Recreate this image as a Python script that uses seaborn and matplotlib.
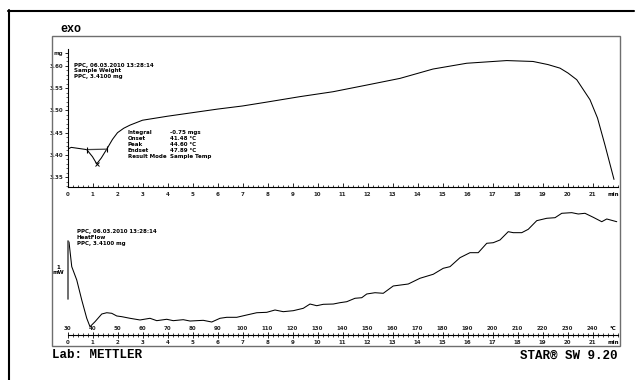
import matplotlib
matplotlib.use("Agg")
import matplotlib.pyplot as plt
from matplotlib.lines import Line2D
from matplotlib.patches import Rectangle
from matplotlib.ticker import MultipleLocator, FixedLocator, FixedFormatter
import seaborn as sns

# ---- TGA: sample weight (mg) against time (min) ----
tga_time = [0.00, 0.15, 0.40, 0.77, 1.00, 1.17, 1.35, 1.57, 1.80, 2.00, 2.25,
            2.50, 3.00, 4.00, 5.00, 6.00, 7.00, 8.00, 9.30, 10.62, 11.97,
            13.30, 14.62, 15.97, 17.30, 17.57, 18.62, 19.22, 19.70, 20.02,
            20.37, 20.90, 21.20, 21.50, 21.86]
tga_weight = [3.413, 3.417, 3.415, 3.412, 3.396, 3.380, 3.393, 3.413, 3.435,
              3.450, 3.460, 3.467, 3.478, 3.487, 3.495, 3.503, 3.510, 3.519,
              3.531, 3.542, 3.557, 3.572, 3.593, 3.606, 3.611, 3.612, 3.610,
              3.603, 3.595, 3.584, 3.569, 3.524, 3.483, 3.422, 3.345]

# ---- DSC: heat flow (mW, relative) against time (min) ----
dsc_time = [0.00, 0.06, 0.17, 0.37, 0.57, 0.77, 0.90, 1.10, 1.37, 1.57, 1.77,
            1.97, 2.17, 2.50, 2.90, 3.30, 3.57, 3.97, 4.23, 4.63, 4.90, 5.43,
            5.77, 6.10, 6.37, 6.77, 7.17, 7.57, 7.97, 8.30, 8.63, 9.03, 9.43,
            9.70, 9.97, 10.23, 10.63, 10.90, 11.17, 11.50, 11.77, 11.97, 12.30,
            12.63, 13.03, 13.63, 14.10, 14.63, 15.03, 15.30, 15.70, 16.10,
            16.43, 16.77, 17.03, 17.30, 17.63, 17.83, 18.17, 18.43, 18.77,
            19.17, 19.50, 19.77, 20.17, 20.43, 20.70, 21.03, 21.37, 21.57,
            21.97]
dsc_heatflow = [1.621, 1.603, 1.178, 0.948, 0.603, 0.288, 0.143, 0.229, 0.362,
                0.384, 0.374, 0.328, 0.316, 0.288, 0.259, 0.288, 0.247, 0.271,
                0.247, 0.264, 0.241, 0.253, 0.224, 0.288, 0.305, 0.305, 0.345,
                0.384, 0.391, 0.431, 0.402, 0.419, 0.460, 0.534, 0.505, 0.529,
                0.534, 0.557, 0.574, 0.633, 0.643, 0.707, 0.729, 0.719, 0.845,
                0.879, 0.978, 1.047, 1.150, 1.178, 1.333, 1.419, 1.419, 1.581,
                1.591, 1.638, 1.781, 1.764, 1.764, 1.822, 1.971, 2.012, 2.022,
                2.098, 2.109, 2.086, 2.098, 2.029, 1.953, 2.000, 1.953]

minute_ticks = list(range(0, 22))
temp_ticks = list(range(30, 250, 10))
weight_ticks = [3.35, 3.40, 3.45, 3.50, 3.55, 3.60]
unit_tick = 3.629

# evaluation of the weight step
step_time = [0.77, 1.57]
step_weight = [3.412, 3.413]
peak_time, peak_weight = 1.17, 3.380
eval_names = ["Integral", "Onset", "Peak", "Endset", "Result Mode"]
eval_values = ["-0.75 mgs", "41.48 \u00b0C", "44.60 \u00b0C", "47.89 \u00b0C",
               "Sample Temp"]

header_tga = ["PPC, 06.03.2010 13:28:14", "Sample Weight", "PPC, 3.4100 mg"]
header_dsc = ["PPC, 06.03.2010 13:28:14", "HeatFlow", "PPC, 3.4100 mg"]

sns.set_style("white")
plt.rcParams["font.family"] = ["DejaVu Sans"]

W, H = 635, 380
fig = plt.figure(figsize=(W / 100, H / 100), dpi=100)
fig.patch.set_facecolor("white")


def fx(px):
    return px / W


def fy(py):
    return 1 - py / H


small = dict(fontsize=4, fontweight="bold", color="black")
mono = dict(family=["Liberation Mono", "DejaVu Sans Mono"], fontweight="bold",
            color="black")

# outer sheet frame
fig.add_artist(Line2D([fx(8), fx(634)], [fy(10.5), fy(10.5)], color="black", lw=1.5))
fig.add_artist(Line2D([fx(8.5), fx(8.5)], [fy(10), fy(381)], color="black", lw=1.5))
# plot frame
fig.add_artist(Rectangle((fx(52), fy(346)), fx(620) - fx(52), fy(36) - fy(346),
                         fill=False, edgecolor="#6e6e6e", lw=1.0))

x_left, x_right = 67.5, 617.5
ax_t = fig.add_axes([fx(x_left), fy(187), fx(x_right) - fx(x_left), fy(49) - fy(187)])
ax_d = fig.add_axes([fx(x_left), fy(335), fx(x_right) - fx(x_left), fy(205) - fy(335)])
for ax in (ax_t, ax_d):
    ax.patch.set_alpha(0)
    ax.set_xlim(0, 22)
    ax.set_xlabel("")
    ax.set_ylabel("")

# ---- upper panel: weight ----
sns.lineplot(x=tga_time, y=tga_weight, ax=ax_t, color="black", lw=0.75,
             estimator=None, sort=False)
ax_t.plot(step_time, step_weight, color="#444444", lw=0.9)
ax_t.plot(step_time, step_weight, ls="none", marker="|", ms=5, mew=0.8, color="black")
ax_t.plot([peak_time], [peak_weight], ls="none", marker="x", ms=2.5, mew=0.7, color="black")
ax_t.set_ylim(3.328, 3.638)
for s in ("top", "right"):
    ax_t.spines[s].set_visible(False)
for s in ("left", "bottom"):
    ax_t.spines[s].set_color("black")
    ax_t.spines[s].set_linewidth(0.8)
ax_t.xaxis.set_major_locator(FixedLocator(minute_ticks))
ax_t.xaxis.set_major_formatter(FixedFormatter([str(m) for m in minute_ticks]))
ax_t.xaxis.set_minor_locator(MultipleLocator(0.2))
ax_t.yaxis.set_major_locator(FixedLocator(weight_ticks + [unit_tick]))
ax_t.yaxis.set_major_formatter(FixedFormatter([f"{w:.2f}" for w in weight_ticks] + ["mg"]))
ax_t.yaxis.set_minor_locator(MultipleLocator(0.01))
ax_t.tick_params(axis="x", which="major", direction="in", length=3, width=0.7, pad=3.6,
                 labelsize=4, bottom=True)
ax_t.tick_params(axis="x", which="minor", direction="in", length=1.8, width=0.6, bottom=True)
ax_t.tick_params(axis="y", which="major", direction="out", length=2, width=0.7, pad=0.8,
                 labelsize=4, left=True)
ax_t.tick_params(axis="y", which="minor", direction="out", length=1.2, width=0.5, left=True)
for lab in ax_t.get_xticklabels() + ax_t.get_yticklabels():
    lab.set_fontweight("bold")
ax_t.annotate("min", xy=(21.82, 0), xycoords=("data", "axes fraction"),
              xytext=(0, -8), textcoords="offset pixels", ha="center", va="center", **small)

for i, line in enumerate(header_tga):
    fig.text(fx(74), fy(65 + 5.6 * i), line, ha="left", va="center", **small)
for i, (n, v) in enumerate(zip(eval_names, eval_values)):
    fig.text(fx(128), fy(132.7 + 6 * i), n, ha="left", va="center", **small)
    fig.text(fx(170), fy(132.7 + 6 * i), v, ha="left", va="center", **small)

# ---- lower panel: heat flow ----
sns.lineplot(x=dsc_time, y=dsc_heatflow, ax=ax_d, color="black", lw=0.75,
             estimator=None, sort=False)
ax_d.set_ylim(0, 2.241)
for s in ("top", "right", "left"):
    ax_d.spines[s].set_visible(False)
ax_d.spines["bottom"].set_color("black")
ax_d.spines["bottom"].set_linewidth(0.8)
ax_d.set_yticks([])
ax_d.xaxis.set_major_locator(FixedLocator(minute_ticks))
ax_d.xaxis.set_major_formatter(FixedFormatter([str(m) for m in minute_ticks]))
ax_d.xaxis.set_minor_locator(MultipleLocator(0.2))
ax_d.tick_params(axis="x", which="major", direction="inout", length=5, width=0.7, pad=1.4,
                 labelsize=4, bottom=True)
ax_d.tick_params(axis="x", which="minor", direction="inout", length=3, width=0.6, bottom=True)
for lab in ax_d.get_xticklabels():
    lab.set_fontweight("bold")

# temperature scale (10 K/min from 30 °C)
sec = ax_d.secondary_xaxis(0.0, functions=(lambda t: 30 + 10 * t, lambda T: (T - 30) / 10))
sec.set_alignment("top")
for s in sec.spines.values():
    s.set_visible(False)
sec.xaxis.set_major_locator(FixedLocator(temp_ticks))
sec.xaxis.set_major_formatter(FixedFormatter([str(T) for T in temp_ticks]))
sec.tick_params(axis="x", which="both", length=0, pad=2.8, labelsize=4)
for lab in sec.get_xticklabels():
    lab.set_fontweight("bold")

ax_d.annotate("\u00b0C", xy=(21.82, 0), xycoords=("data", "axes fraction"),
              xytext=(0, 6), textcoords="offset pixels", ha="center", va="center", **small)
ax_d.annotate("min", xy=(21.82, 0), xycoords=("data", "axes fraction"),
              xytext=(0, -7), textcoords="offset pixels", ha="center", va="center", **small)

# 1 mW scale bar
bar_low, bar_high = 0.621, 1.621
ax_d.plot([0, 0], [bar_low, bar_high], color="#555555", lw=1.2, clip_on=False)
ax_d.annotate("1\nmW", xy=(0, (bar_low + bar_high) / 2), xycoords="data",
              xytext=(-9, 0), textcoords="offset pixels", ha="center", va="center",
              linespacing=1.0, **small)

for i, line in enumerate(header_dsc):
    fig.text(fx(76.7), fy(232 + 6 * i), line, ha="left", va="center", **small)

# sheet labels
fig.text(fx(60), fy(29.5), "exo", ha="left", va="center", fontsize=8.5, **mono)
fig.text(fx(52), fy(354.5), "Lab: METTLER", ha="left", va="center", fontsize=9, **mono)
fig.text(fx(617), fy(355.5), "STAR\u00ae SW 9.20", ha="right", va="center", fontsize=9, **mono)

fig.savefig("out.png", dpi=100, facecolor="white")
